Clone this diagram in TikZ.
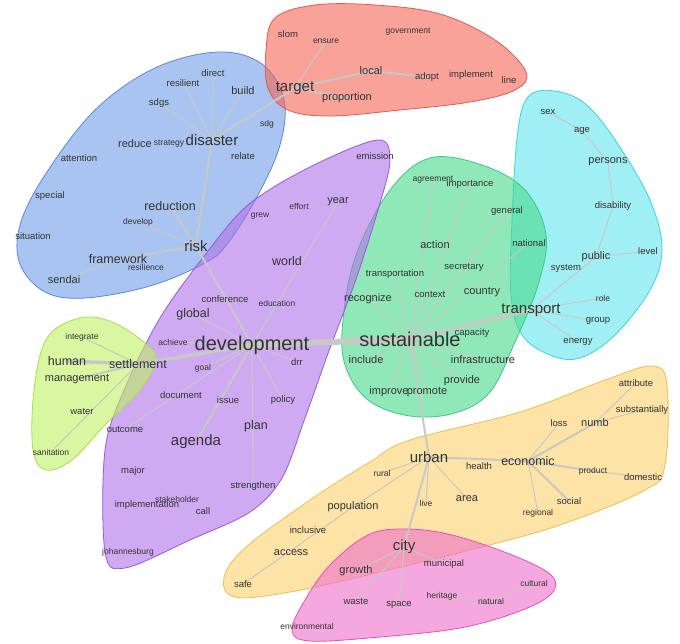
\documentclass[tikz,border=0pt]{standalone}
\usepackage{fontspec}
\setmainfont{Liberation Sans}
\usetikzlibrary{positioning}
\definecolor{fblue}{RGB}{112,157,230}\definecolor{dblue}{RGB}{90,135,220}
\definecolor{fred}{RGB}{243,100,87}\definecolor{dred}{RGB}{225,90,80}
\definecolor{fcyan}{RGB}{97,228,237}\definecolor{dcyan}{RGB}{60,210,225}
\definecolor{fgreen}{RGB}{70,217,137}\definecolor{dgreen}{RGB}{60,200,130}
\definecolor{fpurple}{RGB}{175,113,233}\definecolor{dpurple}{RGB}{150,90,215}
\definecolor{flime}{RGB}{190,242,97}\definecolor{dlime}{RGB}{170,220,80}
\definecolor{fyellow}{RGB}{252,208,107}\definecolor{dyellow}{RGB}{235,190,80}
\definecolor{fpink}{RGB}{238,110,203}\definecolor{dpink}{RGB}{225,80,190}
\definecolor{linkgray}{RGB}{200,200,196}
\pgfdeclarelayer{blobs}
\pgfdeclarelayer{links}
\pgfsetlayers{blobs,links,main}
\tikzstyle{word}=[inner sep=0pt,text=black!80]
\tikzstyle{w1}=[word,font=\fontsize{8.5}{9}\selectfont]
\tikzstyle{w2}=[word,font=\fontsize{9.5}{10}\selectfont]
\tikzstyle{w3}=[word,font=\fontsize{11}{12}\selectfont]
\tikzstyle{w4}=[word,font=\fontsize{12.5}{13}\selectfont]
\tikzstyle{w5}=[word,font=\fontsize{15}{16}\selectfont]
\tikzstyle{w6}=[word,font=\fontsize{20}{22}\selectfont]
\tikzstyle{link}=[draw=linkgray,line cap=round]
\tikzstyle{e1}=[link,line width=1pt]
\tikzstyle{e2}=[link,line width=2pt]
\tikzstyle{e3}=[link,line width=3.5pt]
\tikzstyle{e4}=[link,line width=6pt]
\tikzstyle{blob}=[fill opacity=0.6,line width=0.8pt]
\begin{document}
\begin{tikzpicture}[x=1pt,y=-1pt]
\useasboundingbox (0,0) rectangle (680,643);
% word nodes
\foreach \p/\n/\s in {
  {213,73}/direct/w2, {183,83}/resilient/w2, {243,91}/build/w3, {159,103}/sdgs/w2,
  {267,124}/sdg/w1, {212,140}/disaster/w5, {135,144}/reduce/w3, {169,144}/strategy/w1,
  {243,156}/relate/w2, {79,158}/attention/w2, {50,196}/special/w2, {170,206}/reduction/w4,
  {138,222}/develop/w1, {33,236}/situation/w2, {196,246}/risk/w5, {118,259}/framework/w4,
  {146,267}/resilience/w1, {64,280}/sendai/w3}
  \node[\s] (\n) at (\p) {\n};
\foreach \p/\n/\s in {
  {288,34}/slom/w2, {326,41}/ensure/w1, {408,32}/government/w1, {371,71}/local/w3,
  {427,77}/adopt/w2, {471,75}/implement/w2, {509,80}/line/w2, {295,88}/target/w5,
  {347,98}/proportion/w3}
  \node[\s] (\n) at (\p) {\n};
\foreach \p/\n/\s in {
  {548,112}/sex/w2, {582,131}/age/w2, {608,162}/persons/w3, {613,206}/disability/w2,
  {648,251}/level/w2, {596,257}/public/w3, {566,268}/system/w2, {531,310}/transport/w5,
  {603,298}/role/w1, {598,321}/group/w2, {578,342}/energy/w2}
  \node[\s] (\n) at (\p) {\n};
\foreach \p/\n/\s in {
  {433,180}/agreement/w1, {470,184}/importance/w2, {507,211}/general/w2, {435,245}/action/w3,
  {529,243}/national/w2, {464,267}/secretary/w2, {395,274}/transportation/w2,
  {430,294}/context/w2, {482,292}/country/w3, {368,299}/recognize/w3,
  {410,339}/sustainable/w6, {472,333}/capacity/w2, {366,360}/include/w3,
  {483,360}/infrastructure/w3, {462,381}/provide/w3, {389,392}/improve/w3, {427,392}/promote/w3}
  \node[\s] (\n) at (\p) {\n};
\foreach \p/\n/\s in {
  {375,156}/emission/w2, {260,216}/grew/w1, {299,206}/effort/w1, {338,202}/year/w3,
  {287,261}/world/w4, {225,299}/conference/w2, {277,303}/education/w1, {193,314}/global/w4,
  {173,342}/achieve/w1, {252,345}/development/w6, {297,362}/drr/w2, {203,368}/goal/w1,
  {181,395}/document/w2, {228,400}/issue/w2, {283,400}/policy/w2, {256,426}/plan/w4,
  {125,429}/outcome/w2, {196,442}/agenda/w5, {133,471}/major/w2, {253,486}/strengthen/w2,
  {177,499}/stakeholder/w1, {147,505}/implementation/w2, {203,511}/call/w2,
  {128,552}/johannesburg/w1}
  \node[\s] (\n) at (\p) {\n};
\foreach \p/\n/\s in {
  {82,337}/integrate/w1, {67,361}/human/w4, {138,364}/settlement/w4,
  {77,379}/management/w3, {82,411}/water/w2, {51,452}/sanitation/w1}
  \node[\s] (\n) at (\p) {\n};
\foreach \p/\n/\s in {
  {636,383}/attribute/w2, {642,410}/substantially/w2, {559,423}/loss/w2, {595,423}/numb/w3,
  {429,457}/urban/w5, {528,461}/economic/w4, {479,466}/health/w2, {593,471}/product/w1,
  {643,477}/domestic/w2, {382,473}/rural/w1, {467,499}/area/w3, {569,501}/social/w2,
  {426,503}/live/w1, {538,513}/regional/w1, {353,507}/population/w3, {308,530}/inclusive/w2,
  {404,547}/city/w5, {291,553}/access/w3, {356,571}/growth/w3, {444,564}/municipal/w2,
  {534,583}/cultural/w1, {243,584}/safe/w2, {356,601}/waste/w2, {442,596}/heritage/w1,
  {491,601}/natural/w1, {399,605}/space/w2, {307,626}/environmental/w1}
  \node[\s] (\n) at (\p) {\n};
% links
\begin{pgfonlayer}{links}
\foreach \a/\b/\s in {
  sustainable/development/e4, sustainable/transport/e3, development/settlement/e3,
  settlement/human/e3, sustainable/urban/e2, disaster/risk/e2, risk/development/e2,
  disaster/target/e2, urban/city/e2, urban/economic/e2,
  disaster/sdgs/e1, disaster/resilient/e1, disaster/direct/e1, disaster/build/e1,
  risk/reduction/e2, risk/develop/e1, risk/framework/e2, framework/sendai/e1,
  target/ensure/e1, target/local/e2, local/adopt/e2, target/proportion/e2,
  transport/public/e1, public/disability/e1, disability/persons/e1, persons/age/e1,
  age/sex/e1, public/level/e1, transport/role/e1, transport/group/e1, transport/energy/e1,
  sustainable/agreement/e1, sustainable/importance/e1, sustainable/general/e1,
  sustainable/national/e1, sustainable/transportation/e1, sustainable/recognize/e1,
  sustainable/include/e1, sustainable/infrastructure/e1, sustainable/provide/e1,
  sustainable/improve/e1, sustainable/promote/e1,
  development/year/e1, development/global/e1, development/achieve/e1, development/goal/e1,
  development/outcome/e1, development/agenda/e2, development/strengthen/e1,
  development/policy/e1, development/drr/e1, development/education/e1,
  settlement/integrate/e1, settlement/management/e2, settlement/sanitation/e1,
  urban/rural/e1, urban/population/e1, population/safe/e1, urban/live/e1, urban/area/e1,
  economic/loss/e1, economic/numb/e2, numb/substantially/e1, numb/attribute/e1,
  economic/product/e2, product/domestic/e1, economic/social/e2, economic/regional/e1,
  city/growth/e1, city/waste/e1, city/space/e1, city/municipal/e1,
  heritage/natural/e1, natural/cultural/e1}
  \draw[\s] (\a.center) -- (\b.center);
\end{pgfonlayer}
% cluster hulls
\begin{pgfonlayer}{blobs}
\draw[blob,fill=fblue,draw=dblue] plot[smooth cycle,tension=0.6] coordinates {
  (218,52) (262,64) (284,100) (280,145) (258,195) (228,243) (205,263) (150,286)
  (85,298) (45,292) (20,264) (20,225) (45,175) (95,110) (155,68)};
\draw[blob,fill=fred,draw=dred] plot[smooth cycle,tension=0.6] coordinates {
  (275,18) (315,5) (375,5) (440,14) (495,40) (526,72) (515,90) (470,102)
  (400,110) (330,116) (288,110) (268,88) (266,50)};
\draw[blob,fill=fcyan,draw=dcyan] plot[smooth cycle,tension=0.6] coordinates {
  (530,95) (560,92) (590,108) (625,155) (652,205) (662,250) (650,290) (615,335)
  (580,358) (550,355) (522,335) (511,295) (512,220) (518,130)};
\draw[blob,fill=fgreen,draw=dgreen] plot[smooth cycle,tension=0.6] coordinates {
  (430,158) (482,165) (525,190) (546,235) (538,285) (515,342) (490,392) (455,413)
  (410,416) (368,400) (345,365) (343,320) (356,255) (390,190)};
\draw[blob,fill=fpurple,draw=dpurple] plot[smooth cycle,tension=0.55] coordinates {
  (377,140) (390,160) (378,210) (355,282) (330,348) (305,418) (282,478) (250,512)
  (190,540) (125,568) (105,552) (105,450) (125,388) (160,318) (205,255) (248,205) (310,167)};
\draw[blob,fill=flime,draw=dlime] plot[smooth cycle,tension=0.6] coordinates {
  (80,318) (112,322) (145,343) (156,360) (140,390) (105,425) (72,460) (46,470)
  (33,450) (34,390) (47,338)};
\draw[blob,fill=fyellow,draw=dyellow] plot[smooth cycle,tension=0.6] coordinates {
  (652,366) (667,385) (665,465) (645,490) (560,525) (470,550) (380,572) (290,592)
  (235,597) (224,578) (245,548) (310,500) (370,462) (410,440) (520,412) (605,380)};
\draw[blob,fill=fpink,draw=dpink] plot[smooth cycle,tension=0.6] coordinates {
  (405,529) (452,535) (512,555) (551,575) (552,593) (520,611) (460,628) (380,637)
  (310,641) (292,630) (305,600) (330,565) (368,535)};
\end{pgfonlayer}
\end{tikzpicture}
\end{document}
